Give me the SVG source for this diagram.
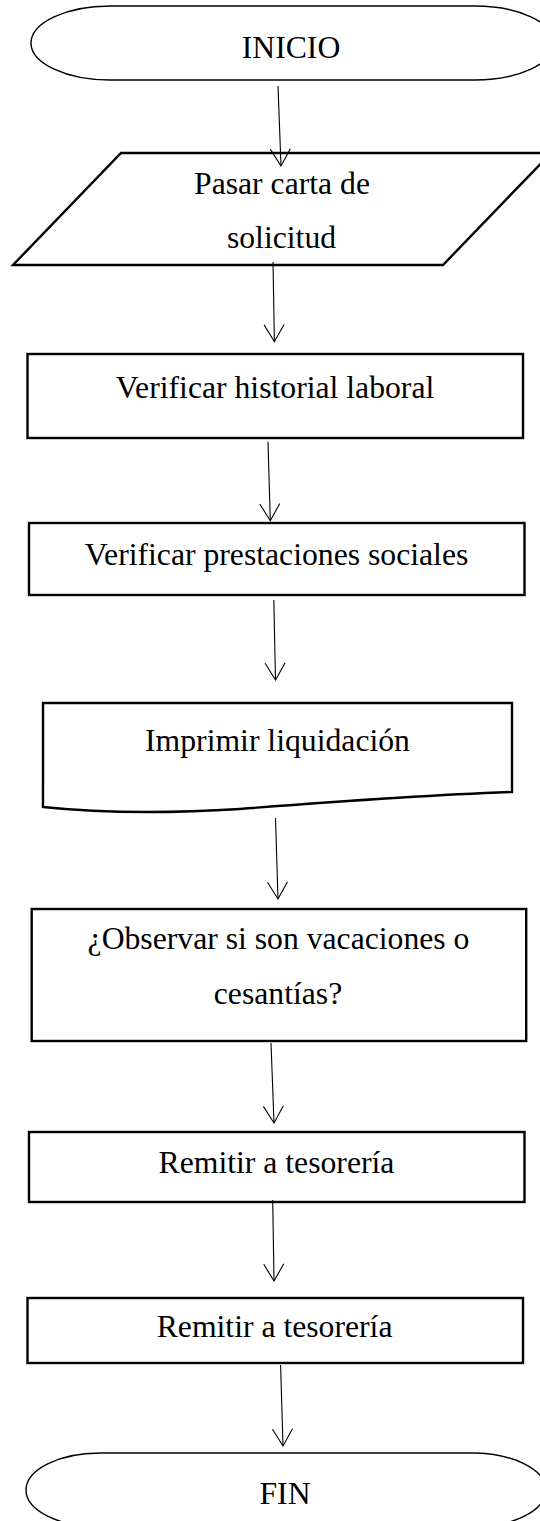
<svg xmlns="http://www.w3.org/2000/svg" width="540" height="1521" viewBox="0 0 540 1521">
<style>
.box{fill:#fff;stroke:#000;stroke-width:2.4}
.term{fill:#fff;stroke:#000;stroke-width:1.4}
.lbl{font-family:"Liberation Serif","Times New Roman",serif;font-size:31.7px;fill:#000;text-anchor:middle}
.con{fill:none;stroke:#000;stroke-width:1.1}
</style>
<defs>
<marker id="arr" markerUnits="userSpaceOnUse" viewBox="-20 -12 22 24" refX="0" refY="0" markerWidth="22" markerHeight="24" orient="auto" overflow="visible">
<path d="M-17,-10 L0,0 L-17,10" fill="none" stroke="#000" stroke-width="1.1"/>
</marker>
</defs>
<rect width="540" height="1521" fill="#fff"/>
<g id="inicio">
<path class="term" d="M110,6 H475 A79,37 0 0 1 475,80 H110 A79,37 0 0 1 110,6 Z"/>
<text class="lbl" x="291" y="58">INICIO</text>
</g>
<g id="pasar">
<polygon class="box" points="121,153 551,153 443,265 13,265"/>
<text class="lbl" x="282" y="194">Pasar carta de</text>
<text class="lbl" x="281.5" y="248">solicitud</text>
</g>
<g id="verificar-historial">
<rect class="box" x="27.5" y="354" width="495.5" height="84"/>
<text class="lbl" x="275" y="398">Verificar historial laboral</text>
</g>
<g id="verificar-prestaciones">
<rect class="box" x="29" y="523" width="495.5" height="72"/>
<text class="lbl" x="276.5" y="565">Verificar prestaciones sociales</text>
</g>
<g id="imprimir">
<path class="box" d="M43,703 H512 V792 C430,795 330,802 240,809 C160,814 90,812 43,807 Z"/>
<text class="lbl" x="277.5" y="750.5">Imprimir liquidación</text>
</g>
<g id="observar">
<rect class="box" x="31.7" y="909" width="494.5" height="132"/>
<text class="lbl" x="278.5" y="949">¿Observar si son vacaciones o</text>
<text class="lbl" x="278" y="1004">cesantías?</text>
</g>
<g id="remitir-1">
<rect class="box" x="29" y="1132" width="495.5" height="70"/>
<text class="lbl" x="276.5" y="1173">Remitir a tesorería</text>
</g>
<g id="remitir-2">
<rect class="box" x="27.5" y="1298" width="495.5" height="65"/>
<text class="lbl" x="274.6" y="1337">Remitir a tesorería</text>
</g>
<g id="fin">
<path class="term" d="M100,1453 H472 A74,37 0 0 1 472,1527 H100 A74,37 0 0 1 100,1453 Z"/>
<text class="lbl" x="285" y="1504">FIN</text>
</g>
<g id="connectors">
<line class="con" x1="278" y1="86" x2="281" y2="166" marker-end="url(#arr)"/>
<line class="con" x1="273" y1="262" x2="274.4" y2="341.7" marker-end="url(#arr)"/>
<line class="con" x1="268" y1="441.7" x2="270.3" y2="520.7" marker-end="url(#arr)"/>
<line class="con" x1="273.8" y1="600" x2="275.5" y2="680" marker-end="url(#arr)"/>
<line class="con" x1="275.5" y1="818" x2="278" y2="899" marker-end="url(#arr)"/>
<line class="con" x1="271" y1="1043" x2="274" y2="1123" marker-end="url(#arr)"/>
<line class="con" x1="272.7" y1="1200" x2="274" y2="1281" marker-end="url(#arr)"/>
<line class="con" x1="280.6" y1="1365" x2="283" y2="1446" marker-end="url(#arr)"/>
</g>
</svg>
